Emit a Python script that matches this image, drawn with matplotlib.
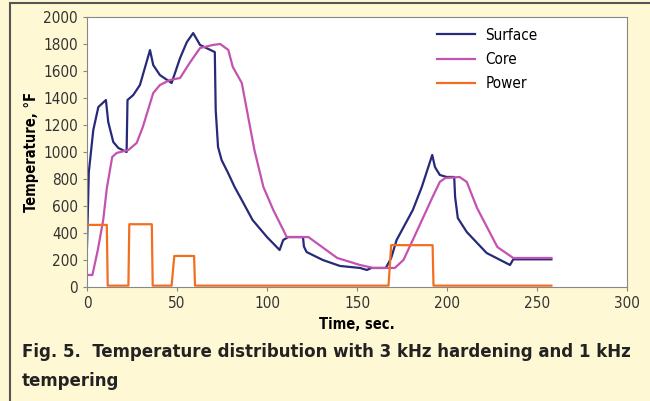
import matplotlib.pyplot as plt
from matplotlib.patches import Rectangle

# values
surface_t = [0, 1, 3.5, 6.3, 10.5, 11.8, 14.6, 17.4, 22, 22.5, 25.7, 29.4, 35, 36.8,
             40.5, 47, 51.7, 55.5, 59, 62.8, 71, 71.5, 72.8, 74.8, 78.4, 82, 86, 92,
             100, 107, 109, 111.8, 120, 120.5, 122, 131, 140.5, 151.7, 155.5, 158,
             166, 169, 172, 181, 186, 191.8, 193.3, 196, 199.8, 204, 204.5, 206, 211,
             222, 235, 236.8, 258]
surface_T = [300, 850, 1163, 1333, 1385, 1222, 1074, 1030, 1000, 1385, 1422, 1496, 1755,
             1644, 1570, 1511, 1696, 1815, 1881, 1793, 1740, 1311, 1037, 940, 844, 741,
             644, 496, 370, 274, 348, 370, 370, 300, 259, 200, 156, 141, 126, 141,
             141, 215, 348, 570, 741, 978, 889, 830, 815, 815, 667, 511, 407,
             252, 163, 205, 205]

core_t = [0, 3, 6, 9, 11, 14, 16.5, 23, 27.6, 31, 36.8, 40.5, 46, 51.7, 57, 62.8, 70,
          74, 78.5, 81, 86, 93, 98, 103.5, 111, 123, 139, 151.7, 159, 171, 175.8, 181,
          192, 196, 199, 207, 211, 216.7, 228, 236.8, 258]
core_T = [89, 89, 274, 496, 730, 963, 993, 1015, 1067, 1185, 1437, 1496, 1533, 1548,
          1659, 1770, 1793, 1800, 1756, 1630, 1511, 1015, 741, 570, 370, 370, 215, 163,
          141, 141, 200, 348, 667, 778, 807, 815, 778, 585, 296, 215, 215]

power_t = [0, 11, 11.5, 23, 23.5, 36, 36.5, 47, 48.5, 59.5, 60, 167.5, 169, 192, 192.5, 258]
power_v = [460, 460, 10, 10, 465, 465, 10, 10, 230, 230, 10, 10, 310, 310, 10, 10]

x_ticks = [0, 50, 100, 150, 200, 250, 300]
y_ticks = list(range(0, 2001, 200))

fam = ["DejaVu Sans"]
cond = "condensed"

fig = plt.figure(figsize=(6.5, 4.01), dpi=100)
fig.patch.set_facecolor("#fff8d4")
# outer frame of the figure box
fig.patches.append(Rectangle((10 / 650, -0.1), 1.0, 1.1 - 3 / 401, transform=fig.transFigure,
                             fill=False, edgecolor="#555555", linewidth=1.5))

ax = fig.add_axes([87 / 650, 1 - 287 / 401, 540 / 650, 270 / 401])
ax.set_facecolor("white")

ax.plot(surface_t, surface_T, color="#262a78", lw=1.6, label="Surface")
ax.plot(core_t, core_T, color="#c452b0", lw=1.6, label="Core")
ax.plot(power_t, power_v, color="#f26f21", lw=1.6, label="Power")

ax.set_xlim(0, 300)
ax.set_ylim(0, 2000)
ax.set_xticks(x_ticks)
ax.set_yticks(y_ticks)
for s in ax.spines.values():
    s.set_color("#888888")
ax.tick_params(colors="#888888", labelcolor="#333333", length=3)
for lab in ax.get_xticklabels() + ax.get_yticklabels():
    lab.set_family(fam)
    lab.set_stretch(cond)
    lab.set_fontsize(11)

ax.set_xlabel("Time, sec.", family=fam, stretch=cond, fontsize=10.5, fontweight="bold", labelpad=4)
ax.set_ylabel("Temperature, °F", family=fam, stretch=cond, fontsize=10.5, fontweight="bold", labelpad=3)

leg = ax.legend(loc="upper right", bbox_to_anchor=(0.86, 1.012), frameon=False,
                prop={"family": fam, "stretch": cond, "size": 11},
                handlelength=2.5, handletextpad=0.7, labelspacing=0.62)

fig.text(22 / 650, 1 - 352 / 401, "Fig. 5.  Temperature distribution with 3 kHz hardening and 1 kHz",
         fontsize=13.3, fontweight="bold", color="#222222", family=fam, stretch=cond, va="center")
fig.text(22 / 650, 1 - 381 / 401, "tempering",
         fontsize=13.3, fontweight="bold", color="#222222", family=fam, stretch=cond, va="center")

fig.savefig("out.png", dpi=100, facecolor=fig.get_facecolor())
